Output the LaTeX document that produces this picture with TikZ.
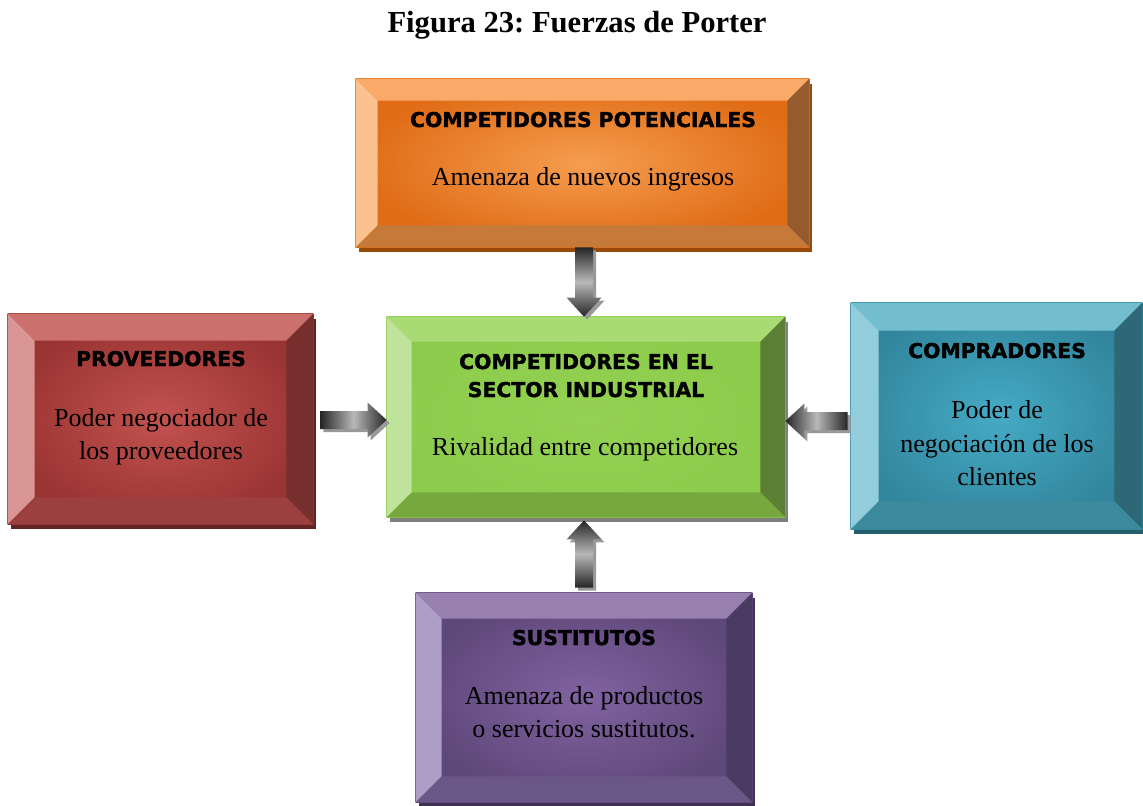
\documentclass[tikz,border=0pt]{standalone}
\usepackage{fontspec}
\setmainfont{Liberation Serif}
\newfontfamily\headfont{DejaVu Sans}[BoldFeatures={FakeBold=1.6}]
\usetikzlibrary{calc,fit}
\frenchspacing

% face centre / face edge / top / left / right / bottom bevel / shadow
\definecolor{orF}{HTML}{F59D4F}\definecolor{orE}{HTML}{E06C16}
\definecolor{orT}{HTML}{F9AA68}\definecolor{orL}{HTML}{FBC28F}
\definecolor{orR}{HTML}{955B2E}\definecolor{orB}{HTML}{C67A3A}
\definecolor{orS}{HTML}{9A4A08}
\definecolor{rdF}{HTML}{C2524F}\definecolor{rdE}{HTML}{993432}
\definecolor{rdT}{HTML}{CC706E}\definecolor{rdL}{HTML}{D99694}
\definecolor{rdR}{HTML}{772F2E}\definecolor{rdB}{HTML}{9B403E}
\definecolor{rdS}{HTML}{632523}
\definecolor{grF}{HTML}{94D152}\definecolor{grE}{HTML}{8CCB4B}
\definecolor{grT}{HTML}{A8DB74}\definecolor{grL}{HTML}{C0E39B}
\definecolor{grR}{HTML}{5B7F33}\definecolor{grB}{HTML}{77A83E}
\definecolor{grS}{HTML}{7F7F7F}
\definecolor{blF}{HTML}{46AAC5}\definecolor{blE}{HTML}{31869D}
\definecolor{blT}{HTML}{72BECF}\definecolor{blL}{HTML}{93CDDC}
\definecolor{blR}{HTML}{2E6775}\definecolor{blB}{HTML}{3C8A9D}
\definecolor{blS}{HTML}{255E6C}
\definecolor{puF}{HTML}{8062A0}\definecolor{puE}{HTML}{5E4779}
\definecolor{puT}{HTML}{9881B1}\definecolor{puL}{HTML}{AE9DC6}
\definecolor{puR}{HTML}{4B3B63}\definecolor{puB}{HTML}{6B5787}
\definecolor{puS}{HTML}{3F3151}
\definecolor{arDark}{HTML}{262626}
\definecolor{arLight}{HTML}{B8B8B8}

\tikzset{
  title/.style={font=\bfseries\fontsize{15.3}{18}\selectfont, anchor=base, inner sep=0pt},
  head/.style={font=\headfont\bfseries\fontsize{10.2}{12}\selectfont, anchor=base, inner sep=0pt},
  body/.style={font=\fontsize{13}{15}\selectfont, anchor=base, inner sep=0pt},
  arrshadow/.style={fill=black!40},
  vshade/.style={top color=arDark, bottom color=arDark, middle color=arLight},
  hshade/.style={left color=arDark, right color=arDark, middle color=arLight},
}

% bevelled box: name, top-left, bottom-right, bevel width, colour prefix
\newcommand\bevelbox[5]{%
  \coordinate (#1-a) at #2;
  \coordinate (#1-b) at #3;
  \node[fit=(#1-a)(#1-b), inner sep=0pt] (#1) {};
  \fill[#5S] ($(#1.north west)+(3,5)$) rectangle ($(#1.south east)+(3,5)$);
  \path[inner color=#5F, outer color=#5E] (#1.north west) rectangle (#1.south east);
  \fill[#5T] (#1.north west) -- (#1.north east) -- ($(#1.north east)+(-#4,#4)$)
    -- ($(#1.north west)+(#4,#4)$) -- cycle;
  \fill[#5L] (#1.north west) -- ($(#1.north west)+(#4,#4)$)
    -- ($(#1.south west)+(#4,-#4)$) -- (#1.south west) -- cycle;
  \fill[#5R] (#1.north east) -- (#1.south east) -- ($(#1.south east)+(-#4,-#4)$)
    -- ($(#1.north east)+(-#4,#4)$) -- cycle;
  \fill[#5B] (#1.south west) -- ($(#1.south west)+(#4,-#4)$)
    -- ($(#1.south east)+(-#4,-#4)$) -- (#1.south east) -- cycle;
}

% block arrow with drop shadow: from, to, shading style
\newcommand\blockarrow[3]{%
  \path let \p1=(#1), \p2=(#2) in \pgfextra{%
    \pgfmathsetmacro\arang{atan2(\y2-\y1,\x2-\x1)}%
    \pgfmathsetmacro\arlen{2*veclen(\x2-\x1,\y2-\y1)}%
    \xdef\arang{\arang}\xdef\arlen{\arlen}%
    \xdef\arx{\x1}\xdef\ary{\y1}};
  \begin{scope}[shift={(\arx,\ary)}]
    \fill[arrshadow, shift={(3,3)}, rotate=\arang]
      (0,-9) -- (\arlen-19,-9) -- (\arlen-19,-17.5) -- (\arlen,0)
      -- (\arlen-19,17.5) -- (\arlen-19,9) -- (0,9) -- cycle;
    \path[#3, rotate=\arang]
      (0,-9) -- (\arlen-19,-9) -- (\arlen-19,-17.5) -- (\arlen,0)
      -- (\arlen-19,17.5) -- (\arlen-19,9) -- (0,9) -- cycle;
  \end{scope}}

\begin{document}
\begin{tikzpicture}[x=0.5pt, y=-0.5pt]
\useasboundingbox[fill=white] (0,0) rectangle (1143,805);

\node[title] (ttl) at (577,32) {Figura 23: Fuerzas de Porter};

% the five forces
\bevelbox{pot}{(356,79)}{(809,247)}{22}{or}
\bevelbox{prov}{(8,314)}{(313,524)}{27}{rd}
\bevelbox{comp}{(387,317)}{(785,517)}{25}{gr}
\bevelbox{compr}{(851,303)}{(1142,529)}{28}{bl}
\bevelbox{sust}{(416,593)}{(752,802)}{26}{pu}

% labels
\node[head] (pot-h) at (583,127) {COMPETIDORES POTENCIALES};
\node[body] (pot-t) at (583,185) {Amenaza de nuevos ingresos};

\node[head] (prov-h) at (161,366) {PROVEEDORES};
\node[body] (prov-t1) at (161,426) {Poder negociador de};
\node[body] (prov-t2) at (161,459) {los proveedores};

\node[head] (comp-h1) at (586,369) {COMPETIDORES EN EL};
\node[head] (comp-h2) at (586,397) {SECTOR INDUSTRIAL};
\node[body] (comp-t) at (585,455) {Rivalidad entre competidores};

\node[head] (compr-h) at (997,358) {COMPRADORES};
\node[body] (compr-t1) at (997,418) {Poder de};
\node[body] (compr-t2) at (997,452) {negociación de los};
\node[body] (compr-t3) at (997,485) {clientes};

\node[head] (sust-h) at (584,645) {SUSTITUTOS};
\node[body] (sust-t1) at (584,704) {Amenaza de productos};
\node[body] (sust-t2) at (584,737) {o servicios sustitutos.};

% arrows into the central box
\coordinate (a1) at ($(pot.south)+(1.5,0)$);
\coordinate (a1e) at (a1 |- comp.north);
\blockarrow{a1}{a1e}{vshade}

\coordinate (a2) at ($(prov.east)+(7,1)$);
\coordinate (a2e) at (a2 -| comp.west);
\blockarrow{a2}{a2e}{hshade}

\coordinate (a3) at ($(compr.west)+(-3,5)$);
\coordinate (a3e) at (a3 -| comp.east);
\blockarrow{a3}{a3e}{hshade}

\coordinate (a4) at ($(sust.north)+(0,-5)$);
\coordinate (a4e) at ($(a4 |- comp.south)+(0,3)$);
\blockarrow{a4}{a4e}{vshade}
\end{tikzpicture}
\end{document}
